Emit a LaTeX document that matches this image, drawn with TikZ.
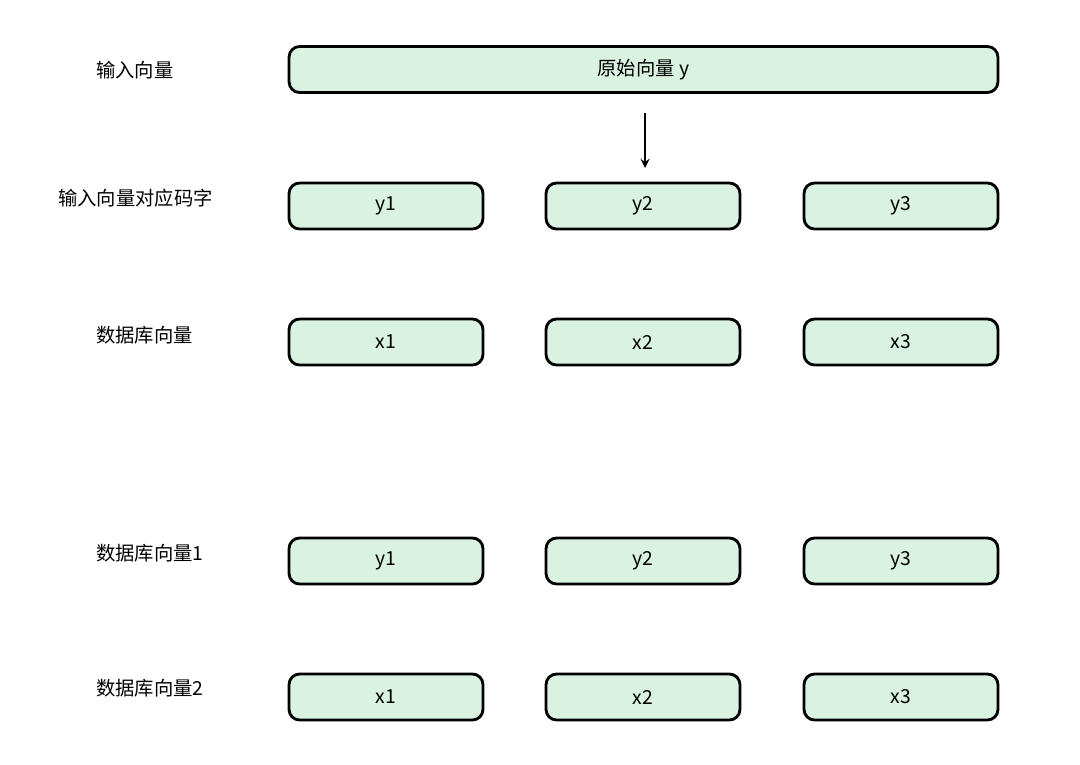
\documentclass[tikz,border=0pt]{standalone}
\usepackage{fontspec}
\setmainfont{Noto Sans CJK SC}
\definecolor{boxgreen}{HTML}{D9F2E2}
\tikzset{
  cell/.style={draw, line width=1.6pt, rounded corners=6pt, fill=boxgreen,
    minimum width=3.88cm, minimum height=0.92cm, font=\fontsize{11}{13}\selectfont},
  lbl/.style={anchor=west, font=\fontsize{11}{13}\selectfont}
}
\begin{document}
\begin{tikzpicture}[x=0.02cm,y=-0.02cm]
\useasboundingbox (0,0) rectangle (1080,765);

\node[cell, minimum width=14.18cm] (orig) at (643.5,69.5) {原始向量 y};
\node[lbl] (l1) at (90,70) {输入向量};
\node[lbl] (l2) at (52,198) {输入向量对应码字};
\node[lbl] (l3) at (90,335) {数据库向量};
\node[lbl] (l4) at (90,553) {数据库向量1};
\node[lbl] (l5) at (90,688) {数据库向量2};

% rows of code words
\foreach \x/\i in {386/1,643/2,901/3}{
  \node[cell] (ya\i) at (\x,206) {y\i};
  \node[cell] (xa\i) at (\x,342) {x\i};
  \node[cell] (yb\i) at (\x,561) {y\i};
  \node[cell] (xb\i) at (\x,697) {x\i};
}

\coordinate (a1) at (645,113);
\coordinate (a2) at (645,168);
\draw[->, line width=1.3pt, >=stealth] (a1) -- (a2);
\end{tikzpicture}
\end{document}
